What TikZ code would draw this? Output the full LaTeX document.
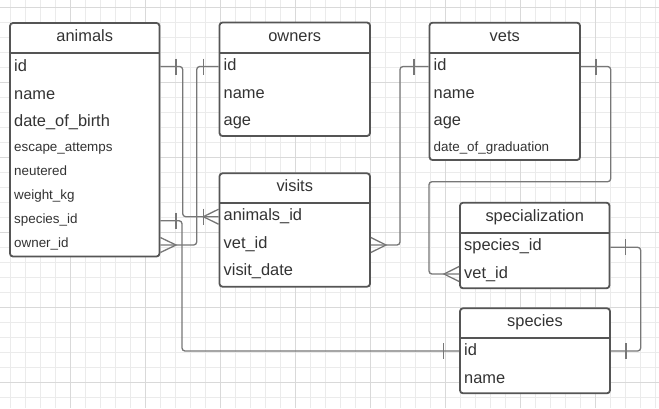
\documentclass[tikz,border=0pt]{standalone}
\usepackage{fontspec}
\setmainfont{Liberation Sans}
\definecolor{gridminor}{HTML}{EBEBEB}
\definecolor{gridmajor}{HTML}{D9D9D9}
\definecolor{tblborder}{HTML}{555555}
\definecolor{conn}{HTML}{777777}
\definecolor{txt}{HTML}{333333}
\tikzset{
  tbl/.style={draw=tblborder, line width=1.8pt, rounded corners=3pt, fill=white, inner sep=0pt, outer sep=0pt, anchor=north west},
  hline/.style={draw=tblborder, line width=1.8pt},
  bigtxt/.style={anchor=base west, inner sep=0pt, text=txt, font=\fontsize{16.4}{18}\selectfont},
  smalltxt/.style={anchor=base west, inner sep=0pt, text=txt, font=\fontsize{13.4}{15}\selectfont},
  title/.style={anchor=base, inner sep=0pt, text=txt, font=\fontsize{16.4}{18}\selectfont},
  link/.style={draw=conn, line width=1.3pt, rounded corners=3pt},
  tick/.style={draw=conn, line width=1.3pt},
}
\begin{document}
\begin{tikzpicture}[x=1pt,y=-1pt]
\useasboundingbox (0,0) rectangle (659,408);
\fill[white] (0,0) rectangle (659,408);
% grid
\foreach \x in {10.7,25.7,...,659} \draw[gridminor, line width=0.8pt] (\x,0) -- (\x,408);
\foreach \y in {7.3,22.3,...,408} \draw[gridminor, line width=0.8pt] (0,\y) -- (659,\y);
\foreach \x in {70.7,145.7,...,659} \draw[gridmajor, line width=0.8pt] (\x,0) -- (\x,408);
\foreach \y in {7.3,82.3,...,408} \draw[gridmajor, line width=0.8pt] (0,\y) -- (659,\y);

% ---------- tables ----------
% animals
\node[tbl, minimum width=149.5pt, minimum height=233.5pt] (animals) at (10,23) {};
\draw[hline] (10,53) -- (159.5,53);
\node[title] (animals-t) at (84.75,41.7) {animals};
\node[bigtxt] (animals-id) at (14,71) {id};
\node[bigtxt] (animals-name) at (14,99.3) {name};
\node[bigtxt] (animals-dob) at (14,126) {date\_of\_birth};
\node[smalltxt] (animals-esc) at (14,151) {escape\_attemps};
\node[smalltxt] (animals-neu) at (14,175.3) {neutered};
\node[smalltxt] (animals-wkg) at (14,199.3) {weight\_kg};
\node[smalltxt] (animals-sp) at (14,223) {species\_id};
\node[smalltxt] (animals-own) at (14,247) {owner\_id};

% owners
\node[tbl, minimum width=150.5pt, minimum height=113.5pt] (owners) at (219.5,22.5) {};
\draw[hline] (219.5,53) -- (370,53);
\node[title] (owners-t) at (294.75,41.7) {owners};
\node[bigtxt] (owners-id) at (223.5,70) {id};
\node[bigtxt] (owners-name) at (223.5,98.3) {name};
\node[bigtxt] (owners-age) at (223.5,125) {age};

% visits
\node[tbl, minimum width=150.5pt, minimum height=113.4pt] (visits) at (219.5,173.3) {};
\draw[hline] (219.5,202.7) -- (370,202.7);
\node[title] (visits-t) at (294.75,191) {visits};
\node[bigtxt] (visits-aid) at (223.5,220) {animals\_id};
\node[bigtxt] (visits-vid) at (223.5,248.3) {vet\_id};
\node[bigtxt] (visits-date) at (223.5,275) {visit\_date};

% vets
\node[tbl, minimum width=150.5pt, minimum height=137.3pt] (vets) at (429.5,22.7) {};
\draw[hline] (429.5,53) -- (580,53);
\node[title] (vets-t) at (504.75,41.7) {vets};
\node[bigtxt] (vets-id) at (433.5,70) {id};
\node[bigtxt] (vets-name) at (433.5,98.3) {name};
\node[bigtxt] (vets-age) at (433.5,125) {age};
\node[smalltxt] (vets-dog) at (433.5,151) {date\_of\_graduation};

% specialization
\node[tbl, minimum width=149.5pt, minimum height=85.6pt] (spec) at (460,202.7) {};
\draw[hline] (460,232.7) -- (609.5,232.7);
\node[title] (spec-t) at (534.75,221.7) {specialization};
\node[bigtxt] (spec-sid) at (464,250) {species\_id};
\node[bigtxt] (spec-vid) at (464,278.3) {vet\_id};

% species
\node[tbl, minimum width=150pt, minimum height=85pt] (species) at (460,308.3) {};
\draw[hline] (460,338.3) -- (610,338.3);
\node[title] (species-t) at (535,326.7) {species};
\node[bigtxt] (species-id) at (464,355.7) {id};
\node[bigtxt] (species-name) at (464,383.3) {name};

% ---------- connector end points ----------
\coordinate (c-aid) at (160.4,66.5);
\coordinate (c-vaid) at (218.6,216.7);
\coordinate (c-oid) at (218.6,66.5);
\coordinate (c-aown) at (160.4,245);
\coordinate (c-asp) at (160.4,220.7);
\coordinate (c-spid) at (459.1,351);
\coordinate (c-vidl) at (428.6,66.5);
\coordinate (c-vvid) at (370.9,245);
\coordinate (c-vidr) at (580.9,66.5);
\coordinate (c-svid) at (459.1,274);
\coordinate (c-ssid) at (610.4,247.3);
\coordinate (c-spidr) at (610.9,351);

% ---------- connectors ----------
% animals.id -> visits.animals_id
\draw[link] (c-aid) -- (182.7,66.5) -- (182.7,216.7) -- (c-vaid);
\draw[tick] (176,58.5) -- (176,74.5);
\draw[tick] (203.3,208.7) -- (203.3,224.7);
\draw[tick] (218.6,209.2) -- (203.3,216.7) -- (218.6,224.2);
% owners.id -> animals.owner_id
\draw[link] (c-oid) -- (196.7,66.5) -- (196.7,245) -- (c-aown);
\draw[tick] (203.3,58.5) -- (203.3,74.5);
\draw[tick] (160.4,237.5) -- (176,245) -- (160.4,252.5);
% animals.species_id -> species.id
\draw[link] (c-asp) -- (182,220.7) -- (182,351) -- (c-spid);
\draw[tick] (176,212.7) -- (176,228.7);
\draw[tick] (443.3,343) -- (443.3,359);
% vets.id -> visits.vet_id
\draw[link] (c-vidl) -- (400,66.5) -- (400,245) -- (c-vvid);
\draw[tick] (414,58.5) -- (414,74.5);
\draw[tick] (370.9,237.5) -- (386,245) -- (370.9,252.5);
% vets.id -> specialization.vet_id
\draw[link] (c-vidr) -- (610.7,66.5) -- (610.7,181.7) -- (429,181.7) -- (429,274) -- (c-svid);
\draw[tick] (596,58.5) -- (596,74.5);
\draw[tick] (459.1,266.5) -- (444,274) -- (459.1,281.5);
% specialization.species_id -> species.id
\draw[link] (c-ssid) -- (640.7,247.3) -- (640.7,351) -- (c-spidr);
\draw[tick] (625.7,239.3) -- (625.7,255.3);
\draw[tick] (626,343) -- (626,359);
\end{tikzpicture}
\end{document}
